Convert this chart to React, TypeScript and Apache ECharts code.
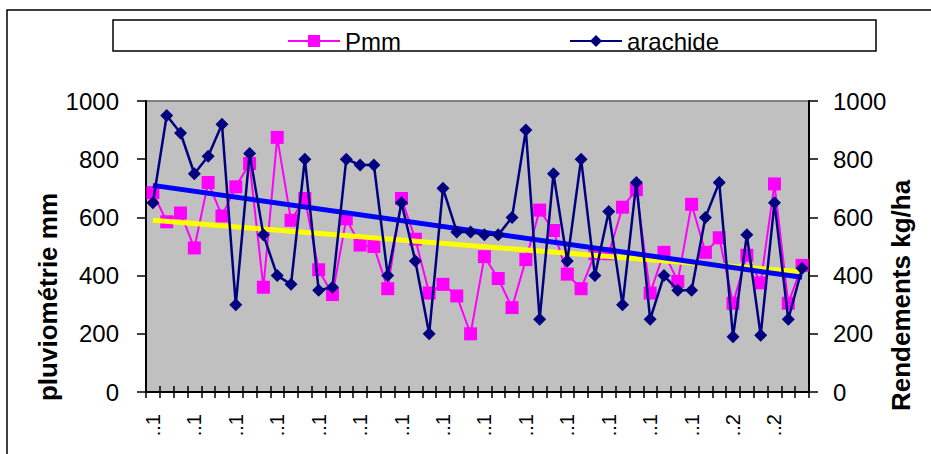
import React, { useEffect, useRef } from "react";
import * as echarts from "echarts";

const xTickLabels = ["..1", "..1", "..1", "..1", "..1", "..1", "..1", "..1", "..1", "..1", "..1", "..1", "..1", "..1", "..2", "..2"];
const pmm = [685, 585, 615, 495, 720, 605, 705, 785, 360, 875, 590, 665, 420, 335, 595, 505, 500, 355, 665, 525, 340, 370, 330, 200, 465, 390, 290, 455, 625, 555, 405, 355, 475, 475, 635, 695, 340, 480, 380, 645, 480, 530, 305, 470, 375, 715, 305, 435];
const arachide = [650, 950, 890, 750, 810, 920, 300, 820, 540, 400, 370, 800, 350, 360, 800, 780, 780, 400, 650, 450, 200, 700, 550, 550, 540, 540, 600, 900, 250, 750, 450, 800, 400, 620, 300, 720, 250, 400, 350, 350, 600, 720, 190, 540, 195, 650, 250, 425];
const pmmTrendEnds = [590, 413];
const arachideTrendEnds = [710, 394];
const yTicks = { min: 0, max: 1000, interval: 200 };

const FONT = "'Liberation Sans', Arial, sans-serif";

export default function App() {
  const ref = useRef<HTMLDivElement>(null);
  useEffect(() => {
    if (!ref.current) return;
    const chart = echarts.init(ref.current, undefined, { renderer: "svg" });
    const n = pmm.length;
    const categories = pmm.map((_, i) => String(i));
    const trend = (ends: number[]) => pmm.map((_, i) => (i === 0 ? ends[0] : i === n - 1 ? ends[1] : null));
    const yAxisBase = {
      type: "value",
      min: yTicks.min,
      max: yTicks.max,
      interval: yTicks.interval,
      splitLine: { show: false },
      axisLine: { show: true, lineStyle: { color: "#000", width: 2 } },
      axisTick: { show: true, length: 9, lineStyle: { color: "#000", width: 1.5 } },
      axisLabel: { fontSize: 24, color: "#000", fontFamily: FONT, formatter: (v: number) => String(v) },
      nameLocation: "middle",
      nameRotate: 90,
      nameMoveOverlap: false,
    };
    chart.setOption({
      animation: false,
      textStyle: { fontFamily: FONT },
      grid: {
        left: 146,
        top: 101,
        right: 122,
        bottom: 62,
        show: true,
        backgroundColor: "#C0C0C0",
        borderColor: "#808080",
        borderWidth: 2,
      },
      legend: {
        data: ["Pmm", "arachide"],
        left: 282,
        top: 24,
        itemWidth: 52,
        itemHeight: 15,
        itemGap: 168,
        textStyle: { fontSize: 24, color: "#000", fontFamily: FONT },
      },
      xAxis: [
        {
          type: "category",
          data: categories,
          boundaryGap: true,
          axisLine: { show: true, lineStyle: { color: "#000", width: 2 } },
          axisTick: { show: true, interval: 0, length: 6, lineStyle: { color: "#000", width: 1.5 } },
          axisLabel: {
            interval: 0,
            rotate: 90,
            fontSize: 20,
            margin: 22,
            color: "#000",
            fontFamily: FONT,
            formatter: (_v: string, i: number) => (i % 3 === 0 ? xTickLabels[i / 3] : ""),
          },
          splitLine: { show: false },
        },
        {
          type: "category",
          data: categories,
          position: "bottom",
          boundaryGap: true,
          axisLine: { show: false },
          axisTick: { show: true, inside: true, interval: 0, length: 6, lineStyle: { color: "#000", width: 1.5 } },
          axisLabel: { show: false },
          splitLine: { show: false },
        },
      ],
      yAxis: [
        {
          ...yAxisBase,
          position: "left",
          name: "pluviométrie mm",
          nameGap: 85,
          axisLabel: { ...yAxisBase.axisLabel, margin: 27 },
          nameTextStyle: { fontSize: 26, fontWeight: "bold", color: "#000", fontFamily: FONT, padding: [0, 101, 0, 0] },
        },
        {
          ...yAxisBase,
          position: "right",
          name: "Rendements kg/ha",
          nameGap: 79,
          axisLabel: { ...yAxisBase.axisLabel, margin: 24 },
          nameTextStyle: { fontSize: 26, fontWeight: "bold", color: "#000", fontFamily: FONT, padding: [0, 98, 0, 0] },
        },
      ],
      series: [
        {
          name: "Pmm",
          type: "line",
          yAxisIndex: 0,
          data: pmm,
          symbol: "rect",
          symbolSize: 13,
          itemStyle: { color: "#FF00FF" },
          lineStyle: { color: "#FF00FF", width: 2 },
          z: 2,
        },
        {
          name: "PmmTrend",
          type: "line",
          yAxisIndex: 0,
          data: trend(pmmTrendEnds),
          connectNulls: true,
          showSymbol: false,
          symbol: "none",
          lineStyle: { color: "#FFFF00", width: 5 },
          z: 3,
        },
        {
          name: "arachideTrend",
          type: "line",
          yAxisIndex: 1,
          data: trend(arachideTrendEnds),
          connectNulls: true,
          showSymbol: false,
          symbol: "none",
          lineStyle: { color: "#0000FF", width: 5 },
          z: 3,
        },
        {
          name: "arachide",
          type: "line",
          yAxisIndex: 1,
          data: arachide,
          symbol: "diamond",
          symbolSize: 13,
          itemStyle: { color: "#000080" },
          lineStyle: { color: "#000080", width: 2.5 },
          z: 4,
        },
      ],
      graphic: [
        {
          type: "polyline",
          shape: { points: [[7, 460], [7, 10], [935, 10]] },
          style: { stroke: "#000", lineWidth: 1.5, fill: "none" },
          silent: true,
        },
        {
          type: "rect",
          shape: { x: 113, y: 20, width: 763, height: 31 },
          style: { stroke: "#000", lineWidth: 1.5, fill: "none" },
          silent: true,
        },
      ],
    });
    return () => chart.dispose();
  }, []);
  return (
    <div
      ref={ref}
      style={{ position: "fixed", left: 0, top: 0, width: 931, height: 454, background: "#fff" }}
    />
  );
}
